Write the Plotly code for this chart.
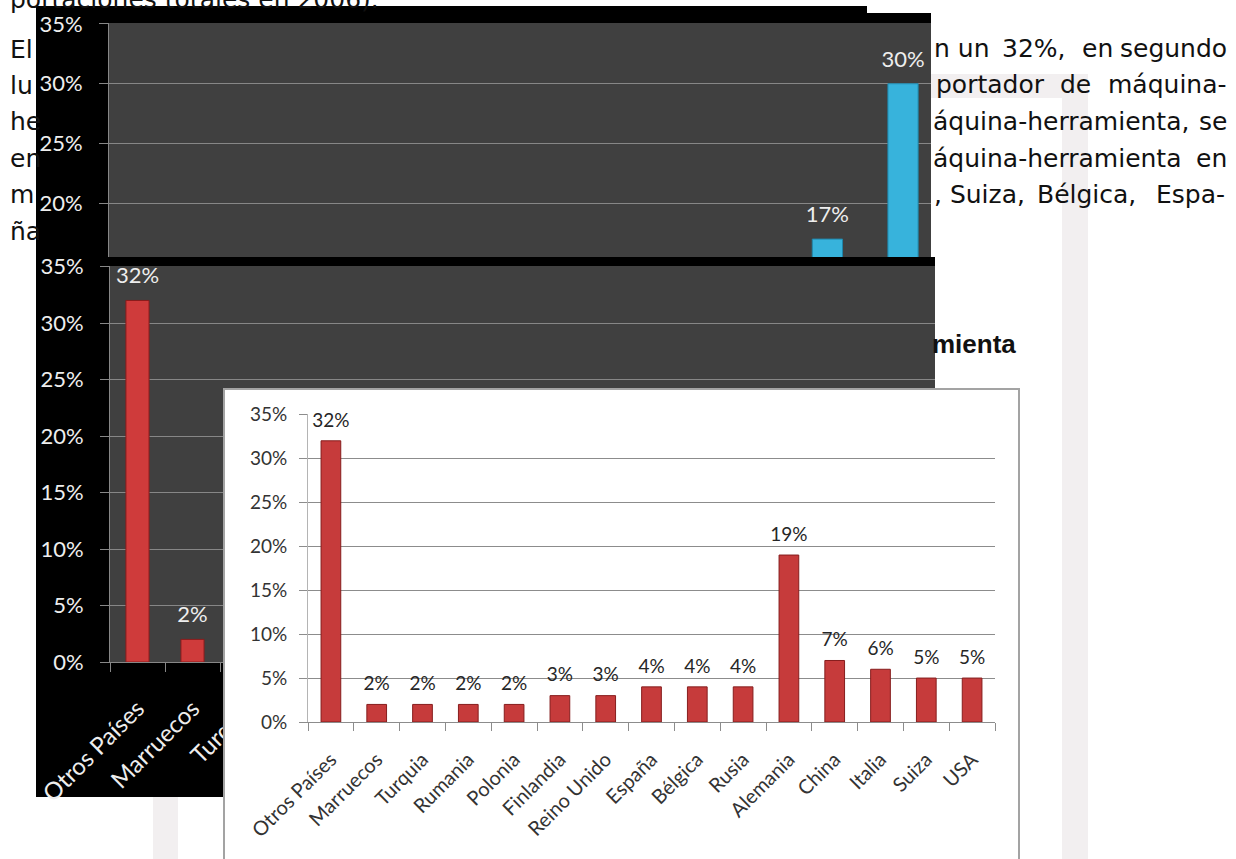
import plotly.graph_objects as go

W, H = 1236, 859

# ---------------- data ----------------
countries = ["Otros Países", "Marruecos", "Turquia", "Rumania", "Polonia",
             "Finlandia", "Reino Unido", "España", "Bélgica", "Rusia",
             "Alemania", "China", "Italia", "Suiza", "USA"]
share_pct = [32, 2, 2, 2, 2, 3, 3, 4, 4, 4, 19, 7, 6, 5, 5]

# top (blue) chart: only its last two bars rise above the chart that overlaps it
top_chart_slots = ["p1", "p2", "p3", "p4", "p5", "p6", "p7", "p8", "p9", "p10", "p11"]
top_chart_pct = [None, None, None, None, None, None, None, None, None, 17, 30]

pct_ticks = [0, 5, 10, 15, 20, 25, 30, 35]
pct_tick_text = ["0%", "5%", "10%", "15%", "20%", "25%", "30%", "35%"]


def pct_labels(vals):
    return [None if v is None else f"{v}%" for v in vals]


# ---------------- helpers (pixel -> paper) ----------------
def px_x(v):
    return v / W


def px_y(v):
    return 1 - v / H


def dom_x(a, b):
    return [px_x(a), px_x(b)]


def dom_y(top, bottom):
    return [px_y(bottom), px_y(top)]


CHART_FONT = "Lato, 'Open Sans', sans-serif"
DOC_FONT = "'DejaVu Sans', sans-serif"
DARK = "#404040"
GRID_DARK = "#878787"
LABEL_LIGHT = "#eeeeee"

fig = go.Figure()

# chart 1 (dark, blue bars)
fig.add_trace(go.Bar(x=top_chart_slots, y=top_chart_pct, xaxis="x", yaxis="y", width=0.40,
                     marker=dict(color="#37b3dc", line=dict(color="#1f86aa", width=1)),
                     hoverinfo="skip"))
fig.add_trace(go.Scatter(x=top_chart_slots, y=top_chart_pct, text=pct_labels(top_chart_pct),
                         mode="markers+text", textposition="top center",
                         marker=dict(size=17, color="rgba(0,0,0,0)"),
                         textfont=dict(family=CHART_FONT, size=22, color=LABEL_LIGHT),
                         cliponaxis=False, xaxis="x", yaxis="y", hoverinfo="skip"))

# chart 2 frame (black)
fig.add_trace(go.Scatter(x=[], y=[], xaxis="x2", yaxis="y2", hoverinfo="skip"))

# chart 2 (dark, red bars)
fig.add_trace(go.Bar(x=countries, y=share_pct, xaxis="x3", yaxis="y3", width=0.42,
                     marker=dict(color="#cf3b3b", line=dict(color="#8a1c1c", width=1)),
                     hoverinfo="skip"))
fig.add_trace(go.Scatter(x=countries, y=share_pct, text=pct_labels(share_pct),
                         mode="markers+text", textposition="top center",
                         marker=dict(size=17, color="rgba(0,0,0,0)"),
                         textfont=dict(family=CHART_FONT, size=22, color=LABEL_LIGHT),
                         cliponaxis=False, xaxis="x3", yaxis="y3", hoverinfo="skip"))

# chart 3 frame (white box)
fig.add_trace(go.Scatter(x=[], y=[], xaxis="x4", yaxis="y4", hoverinfo="skip"))

# chart 3 (white, red bars)
fig.add_trace(go.Bar(x=countries, y=share_pct, xaxis="x5", yaxis="y5", width=0.43,
                     marker=dict(color="#c63b3b", line=dict(color="#861d1d", width=1)),
                     hoverinfo="skip"))
fig.add_trace(go.Scatter(x=countries, y=share_pct, text=pct_labels(share_pct),
                         mode="markers+text", textposition="top center",
                         marker=dict(size=13.5, color="rgba(0,0,0,0)"),
                         textfont=dict(family=CHART_FONT, size=19, color="#262626"),
                         cliponaxis=False, xaxis="x5", yaxis="y5", hoverinfo="skip"))

# ---------------- shapes ----------------
PAGE_STRIP = "#f2eff0"


def paper_rect(x0, x1, top, bottom, color):
    return dict(type="rect", xref="paper", yref="paper", x0=px_x(x0), x1=px_x(x1),
                y0=px_y(bottom), y1=px_y(top), fillcolor=color, line=dict(width=0), layer="below")


def fill_subplot(xref, yref, color):
    return dict(type="rect", xref=xref, yref=yref, x0=-50, x1=50, y0=-500, y1=500,
                fillcolor=color, line=dict(width=0), layer="below")


shapes = [
    paper_rect(928, 1082, 74, 98, PAGE_STRIP),
    paper_rect(1062, 1088, 74, 859, PAGE_STRIP),
    paper_rect(153, 178, 700, 859, PAGE_STRIP),
    paper_rect(36, 867, 6, 23, "#000000"),
    paper_rect(36, 931, 13, 23, "#000000"),
    paper_rect(36, 109, 6, 257, "#000000"),
    fill_subplot("x", "y", DARK),
    fill_subplot("x2", "y2", "#000000"),
    fill_subplot("x3", "y3", DARK),
]

# ---------------- document text fragments ----------------
def doc_text(text, x, baseline, anchor="left", size=25, family=DOC_FONT):
    return dict(text=text, xref="paper", yref="paper", x=px_x(x), y=px_y(baseline - 0.346 * size),
                xanchor=anchor, yanchor="middle", showarrow=False, borderpad=0,
                font=dict(family=family, size=size, color="#111111"))


annotations = [
    doc_text("portaciones totales en 2006).", 9, 8),
    doc_text("El", 9, 58),
    doc_text("lu", 9, 94),
    doc_text("he", 9, 130),
    doc_text("en", 9, 167),
    doc_text("m", 9, 203),
    doc_text("ña", 9, 240),
    doc_text("n un", 933, 57),
    doc_text("32%,", 1034, 57, "center"),
    doc_text("en", 1097, 57, "center"),
    doc_text("segundo", 1228, 57, "right"),
    doc_text("portador", 935, 93),
    doc_text("de", 1075, 93, "center"),
    doc_text("máquina-", 1228, 93, "right"),
    doc_text("áquina-herramienta,", 932, 130),
    doc_text("se", 1228, 130, "right"),
    doc_text("áquina-herramienta", 932, 167),
    doc_text("en", 1228, 167, "right"),
    doc_text(", Suiza,", 933, 203),
    doc_text("Bélgica,", 1086, 203, "center"),
    doc_text("Espa-", 1190, 203, "center"),
    doc_text("<b>mienta</b>", 1017, 353, "right", 26, "'Liberation Sans', Arial, sans-serif"),
]

# ---------------- axes ----------------
hidden = dict(visible=False, range=[0, 1], fixedrange=True)

dark_y = dict(range=[0, 35.05], tickmode="array", tickvals=pct_ticks, ticktext=pct_tick_text,
              showgrid=True, gridcolor=GRID_DARK, gridwidth=1, ticks="outside", ticklen=9,
              tickcolor=GRID_DARK, showline=True, linecolor=GRID_DARK, linewidth=1, zeroline=False,
              tickfont=dict(family=CHART_FONT, size=22, color=LABEL_LIGHT), ticklabelstandoff=12)

fig.update_layout(
    width=W, height=H, margin=dict(l=0, r=0, t=0, b=0, pad=0, autoexpand=False),
    paper_bgcolor="#ffffff", plot_bgcolor="#ffffff", showlegend=False,
    shapes=shapes, annotations=annotations,
    xaxis=dict(domain=dom_x(109, 931), anchor="y", range=[-0.5, 10.37], showticklabels=False,
               showgrid=False, zeroline=False, showline=False, ticks=""),
    yaxis=dict(dark_y, domain=dom_y(23, 257), anchor="x", range=[15.5, 35.08]),
    xaxis2=dict(hidden, domain=dom_x(36, 935), anchor="y2"),
    yaxis2=dict(hidden, domain=dom_y(257, 797), anchor="x2"),
    xaxis3=dict(domain=dom_x(110, 935), anchor="y3", type="category", range=[-0.5, 14.5],
                tickson="boundaries", ticks="outside", ticklen=9, tickcolor=GRID_DARK,
                tickangle=-45, showline=True, linecolor=GRID_DARK, showgrid=False, zeroline=False,
                tickfont=dict(family=CHART_FONT, size=24, color=LABEL_LIGHT), ticklabelstandoff=22),
    yaxis3=dict(dark_y, domain=dom_y(266, 662), anchor="x3"),
    xaxis4=dict(domain=dom_x(225, 1018), anchor="y4", range=[0, 1], side="top", showline=True,
                linecolor="#a3a3a3", linewidth=2, showticklabels=False, ticks="", showgrid=False,
                zeroline=False),
    yaxis4=dict(domain=dom_y(390, 859), anchor="x4", range=[0, 1], showline=True, mirror=True,
                linecolor="#a3a3a3", linewidth=2, showticklabels=False, ticks="", showgrid=False,
                zeroline=False),
    xaxis5=dict(domain=dom_x(308, 995), anchor="y5", type="category", range=[-0.5, 14.5],
                tickson="boundaries", ticks="outside", ticklen=8, tickcolor="#8c8c8c",
                tickangle=-45, showline=True, linecolor="#8c8c8c", showgrid=False, zeroline=False,
                tickfont=dict(family=CHART_FONT, size=20, color="#333333"), ticklabelstandoff=17),
    yaxis5=dict(domain=dom_y(414, 722), anchor="x5", range=[0, 35.05], tickmode="array",
                tickvals=pct_ticks, ticktext=pct_tick_text, showgrid=True, gridcolor="#8c8c8c",
                gridwidth=1, ticks="outside", ticklen=8, tickcolor="#8c8c8c", showline=True,
                linecolor="#b4b4b4", zeroline=False,
                tickfont=dict(family=CHART_FONT, size=19, color="#333333"), ticklabelstandoff=8),
)

fig.write_html("out.html",
               config={"displayModeBar": False},
               post_script="document.body.style.margin='0';document.body.style.overflow='hidden';")
